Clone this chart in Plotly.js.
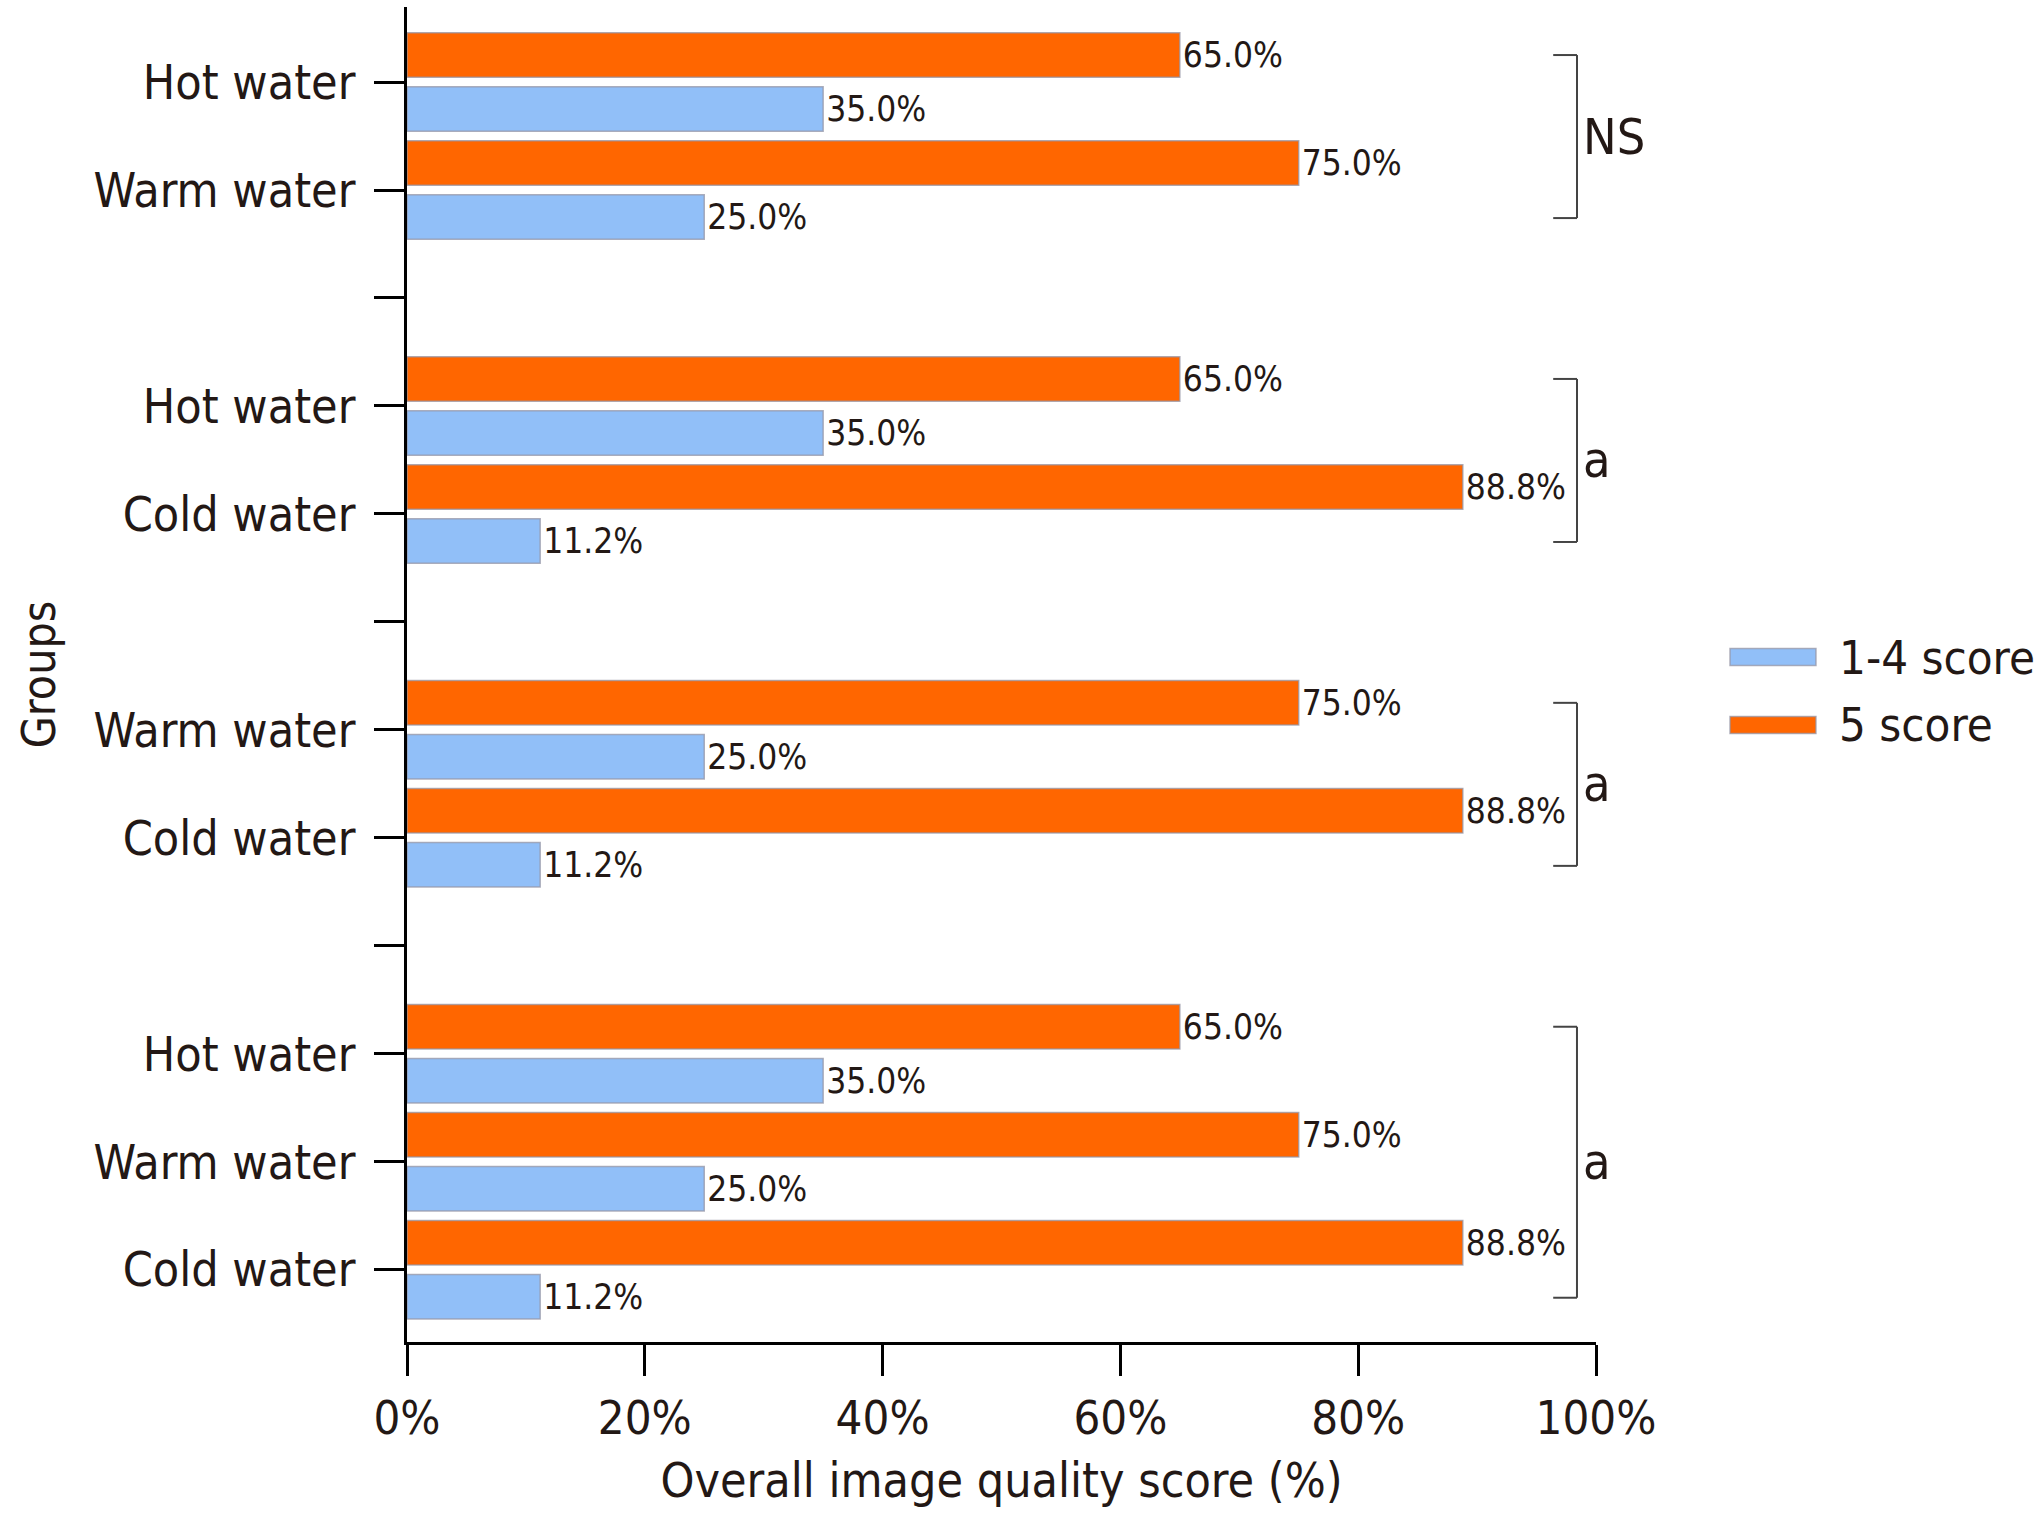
<!DOCTYPE html>
<html>
<head>
<meta charset="utf-8">
<script src="https://cdn.plot.ly/plotly-3.0.1.min.js"></script>
<style>
  html, body { margin: 0; padding: 0; background: #fff; }
  #chart { width: 2035px; height: 1528px; }
</style>
</head>
<body>
<div id="chart"></div>
<script>
// rows from top to bottom, '' = spacer between comparisons
const groupLabels = ['Hot water', 'Warm water', '', 'Hot water', 'Cold water', '',
                     'Warm water', 'Cold water', '', 'Hot water', 'Warm water', 'Cold water'];
const score5 = [65.0, 75.0, null, 65.0, 88.8, null, 75.0, 88.8, null, 65.0, 75.0, 88.8];
const score14 = [35.0, 25.0, null, 35.0, 11.2, null, 25.0, 11.2, null, 35.0, 25.0, 11.2];
const seriesNames = ['1-4 score', '5 score'];
const seriesColors = ['#91BFF8', '#FF6600'];

// significance brackets: first row, last row, label
const bracketFrom = [0, 3, 6, 9];
const bracketTo = [1, 4, 7, 11];
const bracketLabels = ['NS', 'a', 'a', 'a'];

const xTicks = [0, 20, 40, 60, 80, 100];

const FONT = 'DejaVu Sans Condensed, Liberation Sans, sans-serif';
const INK = '#231815';

const rows = groupLabels.map((_, i) => i);
const outline = { color: 'rgba(150,150,165,0.75)', width: 1.5 };

function barTrace(values, idx) {
    return {
        type: 'bar', orientation: 'h',
        x: values, y: rows,
        name: seriesNames[idx],
        marker: { color: seriesColors[idx], line: outline },
        text: values.map(v => v == null ? '' : v.toFixed(1) + '%'),
        textposition: 'outside',
        constraintext: 'none',
        cliponaxis: false,
        textfont: { family: FONT, size: 35, color: INK },
        hoverinfo: 'x+name',
        showlegend: false
    };
}

// orange first so it sits above the blue bar in each row
const traces = [barTrace(score5, 1), barTrace(score14, 0)];

const shapes = [];
const annotations = [];
const bx = 98.4, bxl = 96.4;
bracketFrom.forEach((f, k) => {
    const y0 = f - 0.25, y1 = bracketTo[k] + 0.26;
    const line = { color: '#444', width: 2 };
    shapes.push({ type: 'line', xref: 'x', yref: 'y', x0: bxl, x1: bx, y0: y0, y1: y0, line: line });
    shapes.push({ type: 'line', xref: 'x', yref: 'y', x0: bx, x1: bx, y0: y0, y1: y1, line: line });
    shapes.push({ type: 'line', xref: 'x', yref: 'y', x0: bxl, x1: bx, y0: y1, y1: y1, line: line });
    annotations.push({
        xref: 'x', yref: 'y', x: 98.7, y: (y0 + y1) / 2,
        xanchor: 'left', yanchor: 'middle', showarrow: false,
        text: bracketLabels[k],
        font: { family: FONT, size: 50, color: INK }
    });
});

// legend drawn by hand: long flat swatches
const legendY = [0.5131, 0.4622];
seriesNames.forEach((name, i) => {
    shapes.push({
        type: 'rect', xref: 'paper', yref: 'paper',
        x0: 1.1127, x1: 1.185, y0: legendY[i] - 0.0064, y1: legendY[i] + 0.0064,
        fillcolor: seriesColors[i], line: outline
    });
    annotations.push({
        xref: 'paper', yref: 'paper', x: 1.203, y: legendY[i],
        xanchor: 'left', yanchor: 'middle', showarrow: false,
        text: name,
        font: { family: FONT, size: 47, color: INK }
    });
});

const layout = {
    width: 2035, height: 1528,
    margin: { l: 407, r: 439, t: 7, b: 186, pad: 0 },
    paper_bgcolor: '#fff', plot_bgcolor: '#fff',
    font: { family: FONT, color: INK },
    barmode: 'group',
    bargap: 0,
    bargroupgap: 0.176,
    showlegend: false,
    xaxis: {
        range: [0, 100],
        tickvals: xTicks,
        ticktext: xTicks.map(t => t + '%'),
        ticks: 'outside', ticklen: 31, tickwidth: 3, tickcolor: '#000',
        ticklabelstandoff: 2,
        showline: true, linewidth: 3, linecolor: '#000',
        showgrid: false, zeroline: false,
        tickfont: { family: FONT, size: 47, color: INK },
        title: { text: 'Overall image quality score (%)', standoff: 19,
                 font: { family: FONT, size: 48, color: INK } }
    },
    yaxis: {
        range: [11.67, -0.695],
        tickvals: rows,
        ticktext: groupLabels,
        ticks: 'outside', ticklen: 30, tickwidth: 3, tickcolor: '#000',
        ticklabelstandoff: 9,
        showline: true, linewidth: 3, linecolor: '#000',
        showgrid: false, zeroline: false,
        tickfont: { family: FONT, size: 48, color: INK },
        title: { text: 'Groups', standoff: 24,
                 font: { family: FONT, size: 46, color: INK } }
    },
    shapes: shapes,
    annotations: annotations
};

Plotly.newPlot('chart', traces, layout, { displayModeBar: false, responsive: false });
</script>
</body>
</html>
